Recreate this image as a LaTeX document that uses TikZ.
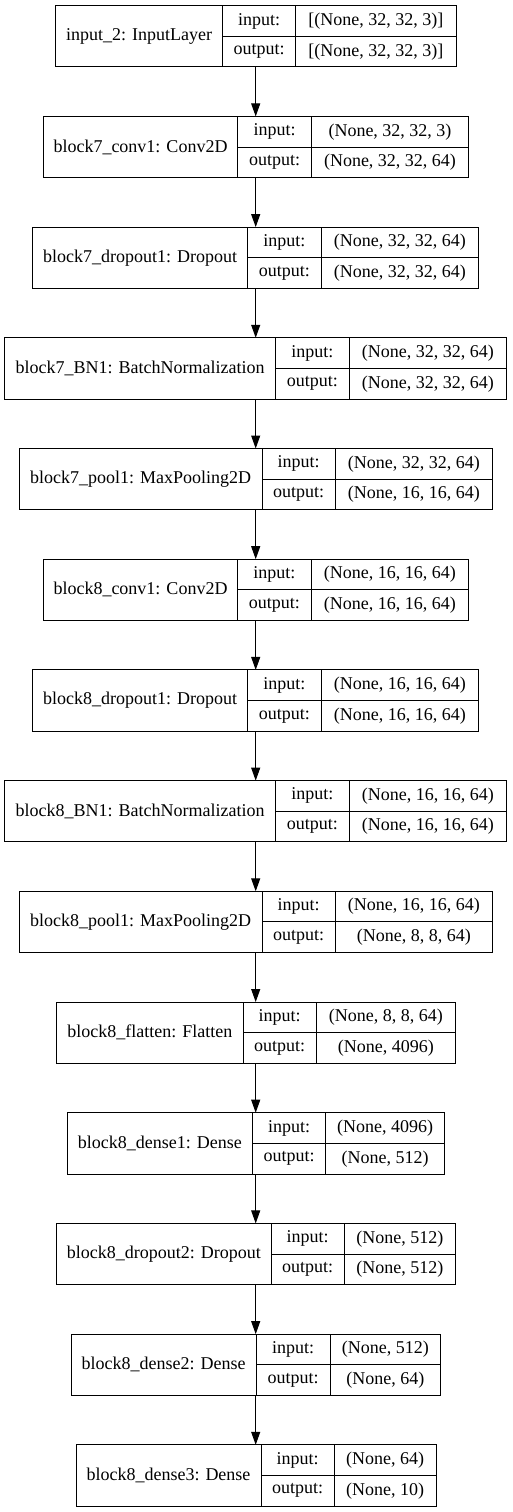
\documentclass[tikz,border=0pt]{standalone}
\usepackage{fontspec}
\setmainfont{Liberation Serif}
\usetikzlibrary{arrows.meta,positioning}

% one keras layer record: name, top, left, label width, key width, value width, label, input, output
\newcommand{\layerrec}[9]{%
  \node[labelcell, minimum width=#4pt, anchor=north west] (#1) at (#3,#2) {#7};
  \node[keycell, minimum width=#5pt, anchor=north west] (#1-ki) at (#1.north east) {input:};
  \node[keycell, minimum width=#5pt, anchor=north west] (#1-ko) at (#1-ki.south west) {output:};
  \node[keycell, minimum width=#6pt, anchor=north west] (#1-vi) at (#1-ki.north east) {#8};
  \node[keycell, minimum width=#6pt, anchor=north west] (#1-vo) at (#1-ki.south east) {#9};
}

\begin{document}
\begin{tikzpicture}[
  x=1pt, y=-1pt,
  font=\fontsize{18}{21}\selectfont,
  labelcell/.style={draw, line width=1pt, outer sep=0pt, inner sep=1pt, minimum height=61.3pt},
  keycell/.style={draw, line width=1pt, outer sep=0pt, inner sep=1pt, minimum height=30.65pt},
  arrow/.style={-{Triangle[length=13pt, width=9pt]}, line width=1pt}
]
  \useasboundingbox (0,0) rectangle (512,1512);
  \coordinate (axis) at (255.7,0);

  \layerrec{input}{5.7}{55.7}{166.6}{73.4}{160.3}{input\_2: InputLayer}{[(None, 32, 32, 3)]}{[(None, 32, 32, 3)]}
  \layerrec{conv7}{116.4}{43.3}{194.4}{73.6}{157.4}{block7\_conv1: Conv2D}{(None, 32, 32, 3)}{(None, 32, 32, 64)}
  \layerrec{drop7}{227.1}{32.7}{215}{73.3}{157.7}{block7\_dropout1: Dropout}{(None, 32, 32, 64)}{(None, 32, 32, 64)}
  \layerrec{bn7}{337.8}{4.7}{271}{73.3}{157.7}{block7\_BN1: BatchNormalization}{(None, 32, 32, 64)}{(None, 32, 32, 64)}
  \layerrec{pool7}{448.5}{19.3}{242.7}{73}{157.7}{block7\_pool1: MaxPooling2D}{(None, 32, 32, 64)}{(None, 16, 16, 64)}
  \layerrec{conv8}{559.2}{43.3}{194.4}{73.3}{157.7}{block8\_conv1: Conv2D}{(None, 16, 16, 64)}{(None, 16, 16, 64)}
  \layerrec{drop8}{669.9}{32.7}{215}{73.3}{157.7}{block8\_dropout1: Dropout}{(None, 16, 16, 64)}{(None, 16, 16, 64)}
  \layerrec{bn8}{780.6}{4.7}{271}{73.3}{157.7}{block8\_BN1: BatchNormalization}{(None, 16, 16, 64)}{(None, 16, 16, 64)}
  \layerrec{pool8}{891.3}{19.3}{242.7}{73}{157.7}{block8\_pool1: MaxPooling2D}{(None, 16, 16, 64)}{(None, 8, 8, 64)}
  \layerrec{flat8}{1002}{56.7}{186.3}{73.3}{139}{block8\_flatten: Flatten}{(None, 8, 8, 64)}{(None, 4096)}
  \layerrec{dense1}{1112.7}{67}{185.7}{73}{119}{block8\_dense1: Dense}{(None, 4096)}{(None, 512)}
  \layerrec{drop9}{1223.4}{56.7}{214.3}{73.3}{111}{block8\_dropout2: Dropout}{(None, 512)}{(None, 512)}
  \layerrec{dense2}{1334.1}{71}{185.3}{73.7}{110.7}{block8\_dense2: Dense}{(None, 512)}{(None, 64)}
  \layerrec{dense3}{1444.8}{76}{185}{73.3}{101.7}{block8\_dense3: Dense}{(None, 64)}{(None, 10)}

  \draw[arrow] (input.south -| axis) -- (conv7.north -| axis);
  \draw[arrow] (conv7.south -| axis) -- (drop7.north -| axis);
  \draw[arrow] (drop7.south -| axis) -- (bn7.north -| axis);
  \draw[arrow] (bn7.south -| axis) -- (pool7.north -| axis);
  \draw[arrow] (pool7.south -| axis) -- (conv8.north -| axis);
  \draw[arrow] (conv8.south -| axis) -- (drop8.north -| axis);
  \draw[arrow] (drop8.south -| axis) -- (bn8.north -| axis);
  \draw[arrow] (bn8.south -| axis) -- (pool8.north -| axis);
  \draw[arrow] (pool8.south -| axis) -- (flat8.north -| axis);
  \draw[arrow] (flat8.south -| axis) -- (dense1.north -| axis);
  \draw[arrow] (dense1.south -| axis) -- (drop9.north -| axis);
  \draw[arrow] (drop9.south -| axis) -- (dense2.north -| axis);
  \draw[arrow] (dense2.south -| axis) -- (dense3.north -| axis);
\end{tikzpicture}
\end{document}
